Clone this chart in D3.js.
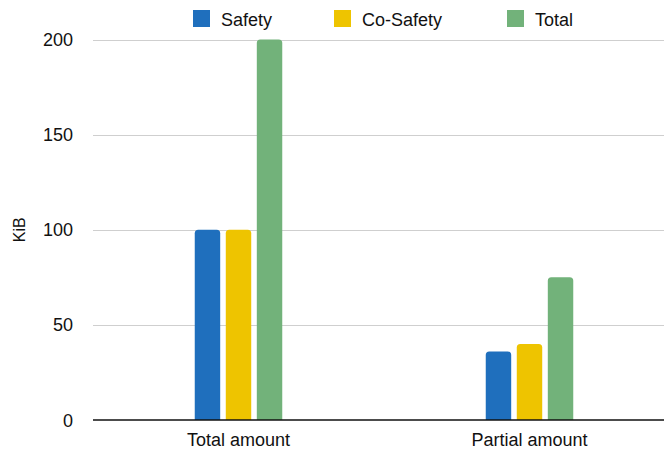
<!DOCTYPE html>
<html>
<head>
<meta charset="utf-8">
<script src="https://cdn.jsdelivr.net/npm/d3@7"></script>
<style>
  body { margin: 0; background: #fff; }
  text { font-family: "Liberation Sans", Arial, sans-serif; fill: #111; }
</style>
</head>
<body>
<script>
(function(){

    //chart data
    var categories = ["Total amount", "Partial amount"];
    var seriesNames = ["Safety", "Co-Safety", "Total"];
    var safetyValues = [100, 36];
    var coSafetyValues = [100, 40];
    var totalValues = [200, 75];
    var yTicks = [0, 50, 100, 150, 200];
    var colors = ["#1f6fbd", "#eec400", "#72b27a"];

    window.onload = function(){
        setChart();
    };

    function setChart(){
        var width = 664, height = 452;
        var margin = {left: 93, right: -11, top: 39.5, bottom: 32};
        var groupWidth = 87.5;

        var svg = d3.select("body")
            .append("svg")
            .attr("width", width)
            .attr("height", height);

        var x0 = d3.scaleBand()
            .domain(categories)
            .range([margin.left, width - margin.right]);

        var x1 = d3.scaleBand()
            .domain(seriesNames)
            .range([0, groupWidth])
            .paddingInner(0.18);

        var y = d3.scaleLinear()
            .domain([0, 200])
            .range([height - margin.bottom, margin.top]);

        //gridlines
        svg.selectAll(".grid")
            .data(yTicks.filter(function(d){ return d > 0; }))
            .enter()
            .append("line")
            .attr("x1", margin.left)
            .attr("x2", width)
            .attr("y1", function(d){ return Math.round(y(d)) + 0.5; })
            .attr("y2", function(d){ return Math.round(y(d)) + 0.5; })
            .attr("stroke", "#cfcfcf")
            .attr("stroke-width", 1);

        //y tick labels
        svg.selectAll(".ytick")
            .data(yTicks)
            .enter()
            .append("text")
            .attr("x", 73)
            .attr("y", function(d){ return y(d) + 6.5; })
            .attr("text-anchor", "end")
            .style("font-size", "18px")
            .text(function(d){ return d; });

        //y axis title
        svg.append("text")
            .attr("transform", "translate(25," + y(100) + ") rotate(-90)")
            .attr("text-anchor", "middle")
            .style("font-size", "16px")
            .text("KiB");

        //bars
        var data = categories.map(function(c, i){
            return [safetyValues[i], coSafetyValues[i], totalValues[i]];
        });

        var groups = svg.selectAll(".group")
            .data(data)
            .enter()
            .append("g")
            .attr("transform", function(d, i){
                return "translate(" + (x0(categories[i]) + x0.bandwidth() / 2 - groupWidth / 2) + ",0)";
            });

        groups.selectAll("path")
            .data(function(d){ return d; })
            .enter()
            .append("path")
            .attr("d", function(d, i){
                return barPath(x1(seriesNames[i]), y(d), x1.bandwidth(), y(0) - y(d), 3.5);
            })
            .style("fill", function(d, i){ return colors[i]; });

        //baseline
        svg.append("line")
            .attr("x1", margin.left)
            .attr("x2", width)
            .attr("y1", y(0))
            .attr("y2", y(0))
            .attr("stroke", "#111")
            .attr("stroke-width", 1.6);

        //x labels
        svg.selectAll(".xlabel")
            .data(categories)
            .enter()
            .append("text")
            .attr("x", function(d){ return x0(d) + x0.bandwidth() / 2; })
            .attr("y", 446)
            .attr("text-anchor", "middle")
            .style("font-size", "18px")
            .text(function(d){ return d; });

        //legend
        var legendX = [193, 334, 507];
        var legend = svg.selectAll(".legend")
            .data(seriesNames)
            .enter()
            .append("g")
            .attr("transform", function(d, i){ return "translate(" + legendX[i] + ",10)"; });

        legend.append("rect")
            .attr("width", 17)
            .attr("height", 17)
            .style("fill", function(d, i){ return colors[i]; });

        legend.append("text")
            .attr("x", 28)
            .attr("y", 15.5)
            .style("font-size", "18px")
            .text(function(d){ return d; });
    }

    //rect with rounded top corners
    function barPath(x, y, w, h, r){
        return "M" + x + "," + (y + h) +
            "V" + (y + r) +
            "Q" + x + "," + y + " " + (x + r) + "," + y +
            "H" + (x + w - r) +
            "Q" + (x + w) + "," + y + " " + (x + w) + "," + (y + r) +
            "V" + (y + h) + "Z";
    }

})();
</script>
</body>
</html>
